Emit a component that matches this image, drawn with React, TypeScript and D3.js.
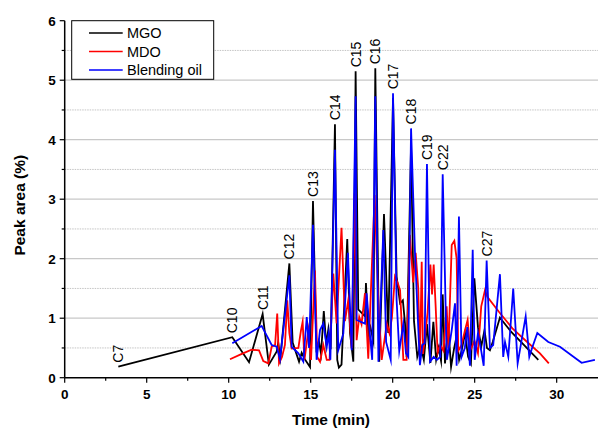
import React from "react";
import * as d3 from "d3";

const mgo: [number, number][] = [
  [3.27, 0.185], [10.22, 0.68], [11.24, 0.26], [12.07, 1.07], [12.45, 0.22], [12.93, 0.44],
  [13.02, 0.59], [13.15, 0.33], [13.7, 1.92], [13.9, 0.59], [14.29, 0.27], [14.45, 0.42],
  [14.62, 0.32], [14.96, 0.18], [15.14, 2.97], [15.35, 0.5], [15.5, 0.62], [15.63, 0.4],
  [15.8, 1.12], [15.95, 0.55], [16.08, 0.82], [16.22, 0.48], [16.48, 4.26], [16.62, 0.3],
  [16.72, 0.17], [16.88, 0.22], [17.23, 2.33], [17.4, 0.75], [17.6, 0.27], [17.74, 5.15],
  [17.9, 1.15], [18.31, 1.03], [18.37, 1.59], [18.52, 0.72], [18.64, 0.85], [18.82, 0.62],
  [18.94, 5.2], [19.18, 0.27], [19.47, 2.75], [19.73, 0.75], [20.02, 4.7], [20.24, 1.7],
  [20.45, 1.25], [20.62, 1.3], [20.75, 0.92], [20.85, 0.35], [21.12, 3.9], [21.3, 0.95],
  [21.5, 0.35], [21.7, 0.55], [21.9, 0.3], [22.09, 0.9], [22.3, 0.25], [22.48, 0.94],
  [22.65, 0.3], [22.8, 0.5], [22.95, 0.28], [23.05, 1.4], [23.19, 0.24], [23.39, 0.85],
  [23.56, 0.18], [23.75, 0.5], [23.9, 0.7], [24.05, 0.3], [24.2, 0.45], [24.41, 0.75],
  [24.6, 0.35], [24.77, 0.24], [24.98, 1.67], [25.2, 0.85], [25.4, 0.52], [25.6, 0.8],
  [25.75, 0.5], [25.93, 0.46], [26.1, 0.6], [26.54, 1.01], [27.2, 0.78], [28.0, 0.55],
  [28.88, 0.3],
];

const mdo: [number, number][] = [
  [10.08, 0.31], [10.8, 0.4], [11.4, 0.47], [11.85, 0.46], [12.11, 0.28], [12.42, 0.24],
  [12.62, 0.52], [12.83, 0.55], [12.96, 1.08], [13.07, 0.24], [13.25, 0.35], [13.43, 0.55],
  [13.57, 1.3], [13.7, 0.75], [13.84, 0.49], [14.25, 0.5], [14.41, 0.8], [14.51, 0.94],
  [14.62, 0.3], [14.86, 0.8], [15.02, 0.3], [15.26, 1.8], [15.4, 0.35], [15.57, 0.27],
  [15.77, 0.55], [15.98, 0.3], [16.15, 0.3], [16.38, 1.75], [16.58, 0.91], [16.88, 2.52],
  [17.09, 0.95], [17.29, 1.3], [17.5, 0.5], [17.68, 3.1], [17.8, 0.63], [17.96, 1.02],
  [18.1, 0.9], [18.31, 1.42], [18.51, 0.32], [18.9, 3.07], [19.13, 1.25], [19.33, 0.3],
  [19.64, 0.91], [19.8, 0.75], [19.95, 1.0], [20.14, 1.7], [20.3, 1.6], [20.45, 1.47],
  [20.65, 0.3], [20.85, 0.3], [21.05, 2.4], [21.25, 1.6], [21.4, 2.1], [21.56, 1.5],
  [21.66, 0.3], [21.77, 1.95], [21.85, 0.4], [22.0, 0.75], [22.13, 1.1], [22.3, 1.9],
  [22.4, 1.4], [22.5, 1.9], [22.62, 1.2], [22.74, 0.42], [22.9, 0.55], [23.1, 0.45],
  [23.29, 1.2], [23.4, 0.5], [23.6, 2.23], [23.76, 2.3], [23.9, 2.0], [24.0, 0.45],
  [24.2, 0.55], [24.41, 0.8], [24.57, 0.97], [24.72, 0.45], [24.99, 0.62], [25.2, 0.41],
  [25.4, 1.2], [25.63, 1.47], [25.77, 1.36], [26.5, 1.1], [27.3, 0.83], [28.2, 0.6],
  [28.98, 0.41], [29.52, 0.24],
];

const blend: [number, number][] = [
  [10.22, 0.58], [12.01, 0.87], [12.62, 0.55], [12.93, 0.52], [13.13, 0.31], [13.7, 1.72],
  [13.84, 0.52], [14.25, 0.41], [14.55, 0.27], [14.76, 1.02], [14.9, 0.5], [15.14, 2.57],
  [15.36, 0.3], [15.57, 0.8], [15.77, 0.91], [15.98, 0.52], [16.1, 0.75], [16.2, 0.3],
  [16.48, 3.83], [16.68, 0.46], [16.99, 0.74], [17.27, 2.1], [17.5, 0.46], [17.74, 4.73],
  [17.8, 0.97], [18.31, 0.91], [18.41, 1.42], [18.61, 0.74], [18.75, 0.3], [18.94, 4.73],
  [19.13, 0.27], [19.43, 2.48], [19.6, 0.6], [19.88, 0.3], [20.02, 4.78], [20.24, 1.3],
  [20.4, 0.45], [20.65, 0.91], [20.81, 0.41], [20.95, 0.35], [21.12, 4.19], [21.36, 2.09],
  [21.66, 0.21], [21.81, 0.55], [21.95, 0.58], [22.09, 3.59], [22.28, 0.27], [22.5, 0.35],
  [22.7, 0.3], [22.9, 0.35], [23.05, 3.42], [23.3, 0.3], [23.49, 0.6], [23.6, 0.8],
  [23.8, 1.25], [23.9, 0.2], [24.04, 2.71], [24.2, 0.35], [24.4, 0.5], [24.55, 0.85],
  [24.71, 0.2], [24.88, 2.15], [25.0, 0.3], [25.2, 0.75], [25.4, 0.45], [25.55, 0.2],
  [25.73, 1.97], [25.93, 0.5], [26.13, 0.55], [26.54, 1.74], [26.74, 0.35], [26.85, 0.6],
  [27.05, 0.35], [27.35, 1.5], [27.62, 0.24], [28.11, 1.03], [28.33, 0.35], [28.5, 0.5],
  [28.82, 0.75], [29.49, 0.6], [30.2, 0.52], [31.52, 0.25], [32.33, 0.3],
];

const peakLabels: { name: string; t: number; v: number }[] = [
  { name: "C7", t: 3.27, v: 0.185 },
  { name: "C10", t: 10.22, v: 0.68 },
  { name: "C11", t: 12.07, v: 1.07 },
  { name: "C12", t: 13.7, v: 1.92 },
  { name: "C13", t: 15.14, v: 2.97 },
  { name: "C14", t: 16.48, v: 4.26 },
  { name: "C15", t: 17.74, v: 5.15 },
  { name: "C16", t: 18.94, v: 5.2 },
  { name: "C17", t: 20.02, v: 4.78 },
  { name: "C18", t: 21.12, v: 4.19 },
  { name: "C19", t: 22.09, v: 3.59 },
  { name: "C22", t: 23.05, v: 3.42 },
  { name: "C27", t: 25.73, v: 1.97 },
];

const seriesNames = ["MGO", "MDO", "Blending oil"];
const seriesColors = ["#000000", "#ff0000", "#0000ff"];
const xTicks = [0, 5, 10, 15, 20, 25, 30];
const yTicks = [0, 1, 2, 3, 4, 5, 6];

const W = 598;
const H = 428;
const FONT = "Arial, 'Liberation Sans', Helvetica, sans-serif";

export default function App() {
  const x = d3.scaleLinear().domain([0, 32.52]).range([64.7, 598]);
  const y = d3.scaleLinear().domain([0, 6]).range([377.7, 20.7]);
  const line = d3
    .line<[number, number]>()
    .x((d) => x(d[0]))
    .y((d) => y(d[1]));
  const series = [mgo, mdo, blend];
  const [x0, x1] = x.range();
  const majorGrid = d3.range(1, 6, 1);
  const minorGrid = d3.range(0.5, 6, 1);
  const xMinor = d3.range(2.5, 32.5, 5);
  const yMinor = d3.range(0.5, 6, 1);

  return (
    <svg
      width={W}
      height={H}
      style={{ position: "absolute", left: 0, top: 0, background: "#fff" }}
      fontFamily={FONT}
    >
      <rect x={0} y={0} width={W} height={H} fill="#fff" />
      {minorGrid.map((v) => (
        <line key={"mg" + v} x1={x0} x2={x1} y1={y(v)} y2={y(v)} stroke="#c4c4c4" strokeWidth={1} strokeDasharray="1.5,1" />
      ))}
      {majorGrid.map((v) => (
        <line key={"Mg" + v} x1={x0} x2={x1} y1={y(v)} y2={y(v)} stroke="#c8c8c8" strokeWidth={1.2} />
      ))}
      {series.map((s, i) => (
        <path key={seriesNames[i]} d={line(s) || ""} fill="none" stroke={seriesColors[i]} strokeWidth={1.8} strokeLinejoin="miter" strokeMiterlimit={10} />
      ))}
      {/* axes */}
      <line x1={x0} x2={x1} y1={y(0)} y2={y(0)} stroke="#000" strokeWidth={1.5} />
      <line x1={x0} x2={x0} y1={y(0)} y2={y(6)} stroke="#000" strokeWidth={1.5} />
      {xTicks.map((t) => (
        <g key={"xt" + t}>
          <line x1={x(t)} x2={x(t)} y1={y(0)} y2={y(0) + 5} stroke="#000" strokeWidth={1.2} />
          <text x={x(t)} y={y(0) + 21} textAnchor="middle" fontSize={13.5} fontWeight="bold">
            {t}
          </text>
        </g>
      ))}
      {xMinor.map((t) => (
        <line key={"xm" + t} x1={x(t)} x2={x(t)} y1={y(0)} y2={y(0) + 3} stroke="#000" strokeWidth={1.2} />
      ))}
      {yTicks.map((v) => (
        <g key={"yt" + v}>
          <line x1={x0 - 5} x2={x0} y1={y(v)} y2={y(v)} stroke="#000" strokeWidth={1.2} />
          <text x={x0 - 9} y={y(v)} dy="0.36em" textAnchor="end" fontSize={13.5} fontWeight="bold">
            {v}
          </text>
        </g>
      ))}
      {yMinor.map((v) => (
        <line key={"ym" + v} x1={x0 - 3} x2={x0} y1={y(v)} y2={y(v)} stroke="#000" strokeWidth={1.2} />
      ))}
      <text x={331} y={419} dy="0.36em" textAnchor="middle" fontSize={15.5} fontWeight="bold">
        Time (min)
      </text>
      <text
        transform={`translate(19.5,${(y(0) + y(6)) / 2 + 6}) rotate(-90)`}
        dy="0.36em"
        textAnchor="middle"
        fontSize={15.5}
        fontWeight="bold"
      >
        Peak area (%)
      </text>
      {peakLabels.map((p) => {
        const px = x(p.t);
        const py = y(p.v) - 4;
        return (
          <text key={p.name} transform={`translate(${px},${py}) rotate(-90)`} dy="0.36em" textAnchor="start" fontSize={14}>
            {p.name}
          </text>
        );
      })}
      {/* legend */}
      <g>
        <rect x={71.7} y={20.7} width={142} height={58.6} fill="#fff" stroke="#000" strokeWidth={1} />
        {seriesNames.map((n, i) => (
          <g key={"lg" + n}>
            <line x1={89} x2={122.7} y1={33 + i * 18.5} y2={33 + i * 18.5} stroke={seriesColors[i]} strokeWidth={1.5} />
            <text x={127} y={33 + i * 18.5} dy="0.36em" fontSize={14.5}>
              {n}
            </text>
          </g>
        ))}
      </g>
    </svg>
  );
}
